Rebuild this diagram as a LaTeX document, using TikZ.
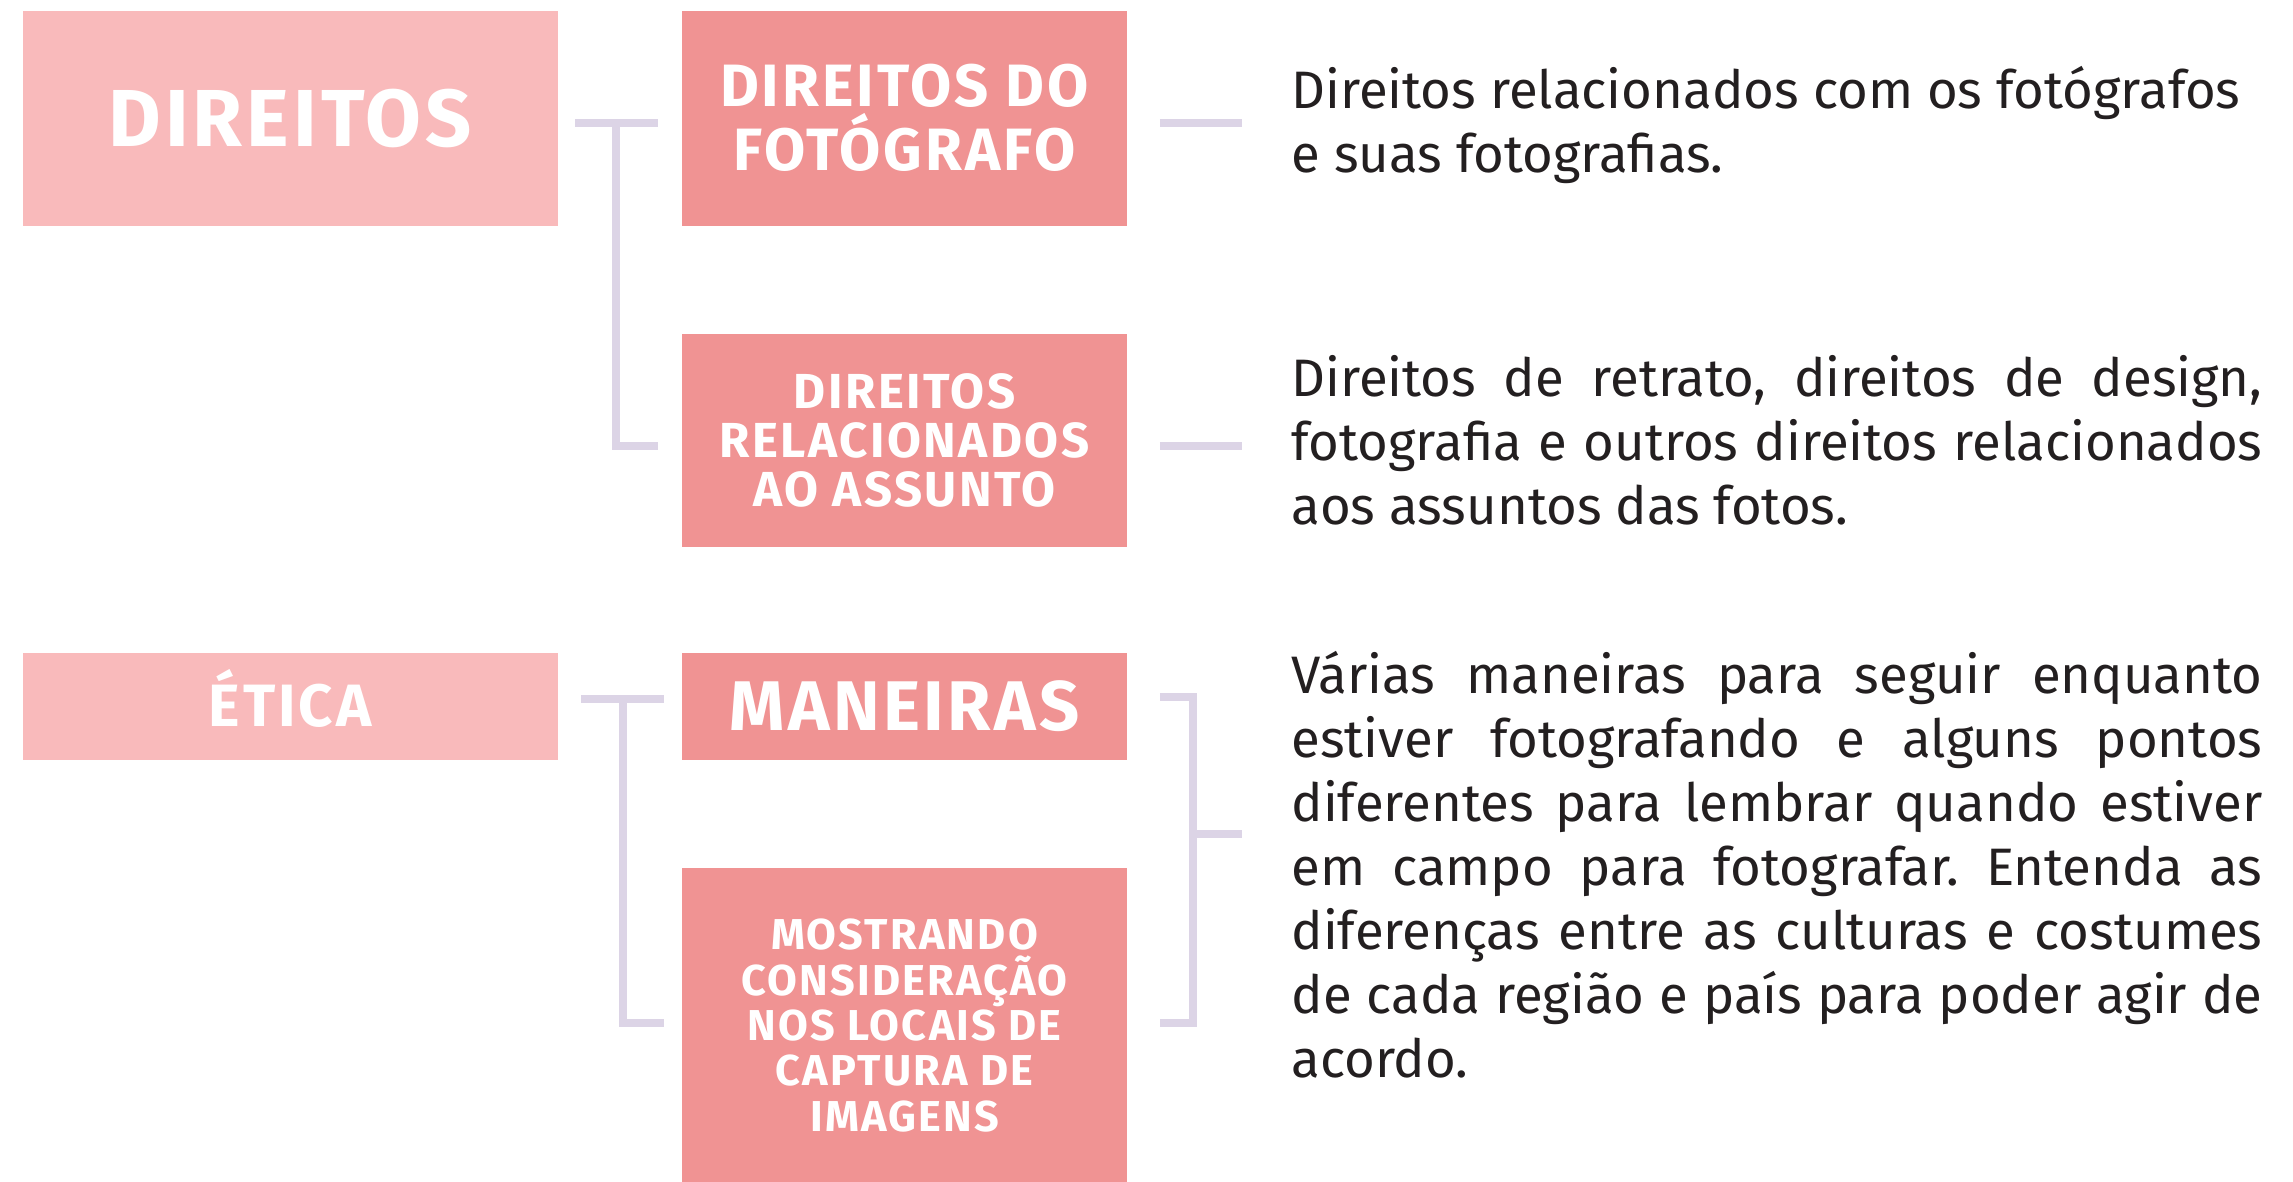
\documentclass[tikz,border=0pt]{standalone}
\usepackage{fontspec}
\setmainfont{Fira Sans}
\newfontfamily\headfont{Fira Sans}[LetterSpace=5.0]
\usepackage{xcolor}
\usetikzlibrary{positioning,calc}

\definecolor{pinkL}{HTML}{F9BABB}
\definecolor{pinkD}{HTML}{F09393}
\definecolor{lilac}{HTML}{DCD4E6}
\definecolor{ink}{HTML}{231F20}

\frenchspacing

\begin{document}
\begin{tikzpicture}[
  x=0.1mm, y=-0.1mm,
  topic/.style={fill=pinkL, text=white, align=center, inner sep=0pt,
                minimum width=53.5mm},
  sub/.style={fill=pinkD, text=white, align=center, inner sep=0pt,
              minimum width=44.5mm},
  desc/.style={text=ink, text width=97.1mm, align=justify, inner sep=0pt,
               anchor=west, font=\fontsize{15}{18.2}\selectfont},
  link/.style={draw=lilac, line width=0.8mm},
  node distance=10.7mm and 12.3mm,
]
\useasboundingbox (0,0) rectangle (2293,1181);

% ---------- Direitos ----------
\node[topic, minimum height=21.5mm, anchor=north west,
      font=\headfont\bfseries\fontsize{23}{24}\selectfont] (dir) at (22,10) {DIREITOS};
\node[sub, minimum height=21.5mm, right=of dir,
      font=\headfont\bfseries\fontsize{17}{18.2}\selectfont] (dfot) {DIREITOS DO\\FOTÓGRAFO};
\node[sub, minimum height=21.3mm, below=of dfot,
      font=\headfont\bfseries\fontsize{14}{14}\selectfont] (drel) {DIREITOS\\RELACIONADOS\\AO ASSUNTO};

% ---------- Ética ----------
\node[topic, minimum height=10.7mm, anchor=north west, text height=11.7pt, text depth=0pt,
      font=\headfont\bfseries\fontsize{17}{18}\selectfont] (etica) at (22,652) {ÉTICA};
\node[sub, minimum height=10.7mm, right=of etica,
      font=\headfont\bfseries\fontsize{20}{21}\selectfont] (man) {MANEIRAS};
\node[sub, minimum height=31.5mm, below=of man,
      font=\headfont\bfseries\fontsize{12.3}{12.9}\selectfont] (mos)
      {MOSTRANDO\\CONSIDERAÇÃO\\NOS LOCAIS DE\\CAPTURA DE\\IMAGENS};

% ---------- Texts ----------
\node[desc] (t1) at ($(dfot.east)+(163,7)$)
      {Direitos relacionados com os fotógrafos\\e suas fotografias.};
\node[desc] (t2) at ($(drel.east)+(163,0)$)
      {Direitos de retrato, direitos de design,\linebreak
       fotografia e outros direitos relacionados\linebreak
       aos assuntos das fotos.};
\node[desc] (t3) at ($(man.east)!0.5!(mos.east)+(163,-1)$)
      {Várias maneiras para seguir enquanto\linebreak
       estiver fotografando e alguns pontos\linebreak
       diferentes para lembrar quando estiver\linebreak
       em campo para fotografar. Entenda as\linebreak
       diferenças entre as culturas e costumes\linebreak
       de cada região e país para poder agir de\linebreak
       acordo.};

% ---------- Brackets ----------
\draw[link] ($(dir.east)+(17,5)$) -- ($(dfot.west)+(-23,5)$);
\draw[link] ($(dfot.west)+(-65,5)$) |- ($(drel.west)+(-23,5)$);
\draw[link] ($(dfot.east)+(32,5)$) -- ++(82,0);
\draw[link] ($(drel.east)+(32,5)$) -- ++(82,0);

\draw[link] ($(etica.east)+(23,-7)$) -- ($(man.west)+(-17,-7)$);
\draw[link] ($(man.west)+(-58,-7)$) |- ($(mos.west)+(-17,-3)$);
\draw[link] ($(man.east)+(32,-9)$) -| ($(mos.east)+(65,-3)$)
      -- ($(mos.east)+(32,-3)$);
\draw[link] ($(man.east)!0.4!(mos.east)+(65,0)$) -- ++(49,0);

\end{tikzpicture}
\end{document}
